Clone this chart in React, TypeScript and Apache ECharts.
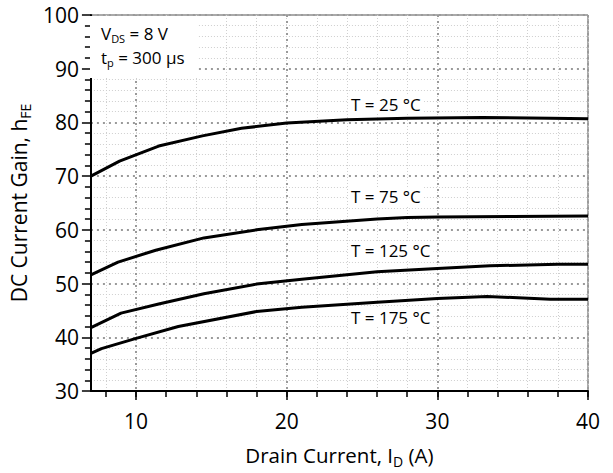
import React, { useEffect, useRef } from "react";
import * as echarts from "echarts";

const xMajorTicks = [10, 20, 30, 40];
const xMinorTicks = [8, 10, 12, 14, 16, 18, 20, 22, 24, 26, 28, 30, 32, 34, 36, 38, 40];

const curve25: [number, number][] = [
  [7, 70.0], [8.9, 72.8], [11.5, 75.6], [14.4, 77.5], [17, 78.9], [20, 79.9],
  [24, 80.5], [28, 80.8], [33, 80.9], [37.5, 80.8], [40, 80.7],
];
const curve75: [number, number][] = [
  [7, 51.6], [8.8, 54.0], [11.3, 56.2], [14.5, 58.5], [18, 60.0], [21, 61.0],
  [26, 62.0], [28, 62.3], [30, 62.4], [35, 62.5], [40, 62.6],
];
const curve125: [number, number][] = [
  [7, 41.8], [9, 44.5], [11.5, 46.2], [14.5, 48.1], [18, 49.9], [21, 50.8],
  [26, 52.2], [30, 52.8], [33.5, 53.3], [38, 53.6], [40, 53.6],
];
const curve175: [number, number][] = [
  [7, 37.0], [7.7, 37.9], [10, 39.8], [12.8, 42.0], [18, 44.8], [21, 45.6],
  [26, 46.5], [30, 47.2], [33.3, 47.6], [35, 47.4], [37.5, 47.1], [40, 47.1],
];
const curveNames = ["T = 25 °C", "T = 75 °C", "T = 125 °C", "T = 175 °C"];

const FONT = "Open Sans";

export default function App() {
  const ref = useRef<HTMLDivElement>(null);
  useEffect(() => {
    const chart = echarts.init(ref.current!, null, { renderer: "svg" });
    const majorSplit = { show: true, lineStyle: { color: "#9a9a9a", width: 2, type: [2, 4] } };
    const minorSplit = { show: true, lineStyle: { color: "#cfcfcf", width: 1, type: [1, 2] } };
    const curves = [curve25, curve75, curve125, curve175];
    const subRich = { sub: { fontSize: 11, fontFamily: FONT, fill: "#000", color: "#000", lineHeight: 21, verticalAlign: "bottom" } };
    const labelTop = [96, 188, 242, 309];
    chart.setOption({
      animation: false,
      backgroundColor: "#fff",
      textStyle: { fontFamily: FONT },
      grid: {
        left: 89, top: 15, right: 25, bottom: 78,
        show: true, borderColor: "#555", borderWidth: 1,
      },
      xAxis: [
        {
          type: "value", min: 7, max: 40, position: "bottom",
          axisLine: { show: true, lineStyle: { color: "#000", width: 2 } },
          axisTick: { show: true, customValues: xMajorTicks, length: 9, lineStyle: { color: "#000", width: 1.5 } },
          axisLabel: { customValues: xMajorTicks, fontSize: 21, color: "#000", margin: 19, fontFamily: FONT },
          splitLine: majorSplit,
          name: "Drain Current, I{sub|D} (A)",
          nameLocation: "middle", nameGap: 51,
          nameTextStyle: {
            fontSize: 20.5, color: "#000", fontFamily: FONT,
            rich: { sub: { fontSize: 14, color: "#000", fontFamily: FONT, lineHeight: 26, verticalAlign: "bottom" } },
          },
          z: 3,
        },
        {
          type: "value", min: 7, max: 40, position: "bottom",
          axisLine: { show: false },
          axisTick: { show: true, customValues: xMinorTicks, length: 6, lineStyle: { color: "#000", width: 1.5 } },
          axisLabel: { show: false },
          splitLine: minorSplit,
          z: 1,
        },
      ],
      yAxis: {
        type: "value", min: 30, max: 100, interval: 10,
        axisLine: { show: true, lineStyle: { color: "#000", width: 2 } },
        axisTick: { show: true, length: 9, lineStyle: { color: "#000", width: 1.5 } },
        minorTick: { show: true, splitNumber: 5, length: 6, lineStyle: { color: "#000", width: 1.5 } },
        axisLabel: { fontSize: 21, color: "#000", margin: 12, fontFamily: FONT },
        splitLine: majorSplit,
        minorSplitLine: minorSplit,
        name: "DC Current Gain, h{sub|FE}",
        nameLocation: "middle", nameGap: 57,
        nameTextStyle: {
          fontSize: 21, color: "#000", fontFamily: FONT,
          rich: { sub: { fontSize: 14, color: "#000", fontFamily: FONT, lineHeight: 27, verticalAlign: "bottom" } },
        },
      },
      series: curves.map((d, i) => ({
        name: curveNames[i],
        type: "line",
        data: d,
        xAxisIndex: 0,
        symbol: "none",
        lineStyle: { color: "#000", width: 3 },
        z: 5,
      })),
      graphic: [
        {
          type: "rect", shape: { x: 90, y: 16, width: 108, height: 62 },
          style: { fill: "#fff" }, z: 10,
        },
        {
          type: "text", left: 101, top: 25, z: 11,
          style: { text: "V{sub|DS} = 8 V", fontSize: 17, fill: "#000", fontFamily: FONT, rich: subRich },
        },
        {
          type: "text", left: 101, top: 49, z: 11,
          style: { text: "t{sub|p} = 300 µs", fontSize: 17, fill: "#000", fontFamily: FONT, rich: subRich },
        },
        ...curveNames.map((n, i) => ({
          type: "text", left: 348, top: labelTop[i] - 1, z: 11,
          style: { text: n, fontSize: 17, fill: "#000", fontFamily: FONT, backgroundColor: "#fff", padding: [1, 3] },
        })),
      ],
    });
    return () => chart.dispose();
  }, []);
  return (
    <div
      ref={ref}
      style={{ position: "absolute", left: 0, top: 0, width: 613, height: 473, background: "#fff" }}
    />
  );
}
